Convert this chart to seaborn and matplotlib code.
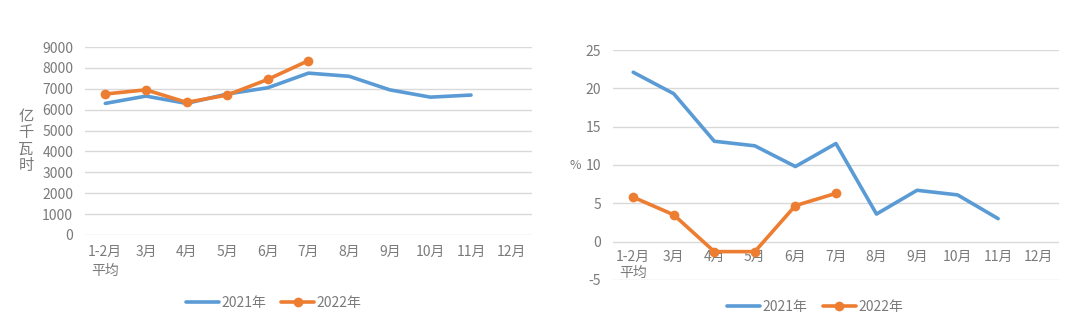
import numpy as np
import pandas as pd
import matplotlib
matplotlib.use("Agg")
import matplotlib.pyplot as plt
import seaborn as sns

months = ["1-2月\n平均", "3月", "4月", "5月", "6月", "7月", "8月", "9月", "10月", "11月", "12月"]
gen_2021 = [6300, 6650, 6300, 6750, 7050, 7750, 7600, 6950, 6600, 6700]
gen_2022 = [6750, 6950, 6350, 6700, 7450, 8350]
growth_2021 = [22.1, 19.3, 13.1, 12.5, 9.8, 12.8, 3.6, 6.7, 6.1, 3.0]
growth_2022 = [5.8, 3.5, -1.3, -1.3, 4.7, 6.3]
left_ticks = [0, 1000, 2000, 3000, 4000, 5000, 6000, 7000, 8000, 9000]
right_ticks = [-5, 0, 5, 10, 15, 20, 25]

sns.set_theme(style="white")
plt.rcParams['font.family'] = ['Noto Sans CJK SC', 'DejaVu Sans']

BLUE = "#5B9BD5"
ORANGE = "#ED7D31"
TXT = "#7A7A7A"
GRID = "#D9D9D9"

fig = plt.figure(figsize=(10.81, 3.29), dpi=100)
axL = fig.add_axes([0.0786, 0.286, 0.4135, 0.571])
axR = fig.add_axes([0.567, 0.149, 0.4126, 0.699])

def draw(ax, v21, v22, ticks):
    d21 = pd.DataFrame({"x": np.arange(len(v21)), "y": v21})
    d22 = pd.DataFrame({"x": np.arange(len(v22)), "y": v22})
    sns.lineplot(data=d21, x="x", y="y", ax=ax, color=BLUE, lw=2.6, label="2021年", sort=False)
    sns.lineplot(data=d22, x="x", y="y", ax=ax, color=ORANGE, lw=2.6, marker="o",
                 markersize=7, markeredgewidth=0, label="2022年", sort=False)
    ax.set_xlim(-0.5, len(months) - 0.5)
    ax.set_ylim(ticks[0], ticks[-1])
    ax.set_yticks(ticks)
    ax.set_yticklabels([str(t) for t in ticks])
    ax.set_xticks(np.arange(len(months)))
    ax.set_xticklabels(months, linespacing=1.5)
    ax.grid(axis="y", color=GRID, lw=1)
    ax.set_axisbelow(True)
    for s in ax.spines.values():
        s.set_visible(False)
    ax.tick_params(axis="both", length=0, colors=TXT, labelsize=10)
    ax.tick_params(axis="y", pad=8.5)
    ax.tick_params(axis="x", pad=7)
    ax.set_xlabel("")
    ax.set_ylabel("")
    ax.get_legend().remove()

draw(axL, gen_2021, gen_2022, left_ticks)
draw(axR, growth_2021, growth_2022, right_ticks)
axR.spines['bottom'].set_position(('data', 0))
axR.tick_params(axis="x", pad=6)

fig.text(0.024, 0.571, "亿\n千\n瓦\n时", color=TXT, fontsize=11, ha="center", va="center", linespacing=0.95)
fig.text(0.532, 0.498, "%", color=TXT, fontsize=9, ha="center", va="center")

handles, labels = axL.get_legend_handles_labels()
for ax, cx, cy in [(axL, 0.253, 0.078), (axR, 0.754, 0.066)]:
    fig.legend(handles, labels, loc="center", bbox_to_anchor=(cx, cy), ncol=2, frameon=False,
               fontsize=10, labelcolor=TXT, handlelength=2.4, handletextpad=0.15, columnspacing=1.1)

fig.savefig("out.png", dpi=100)
